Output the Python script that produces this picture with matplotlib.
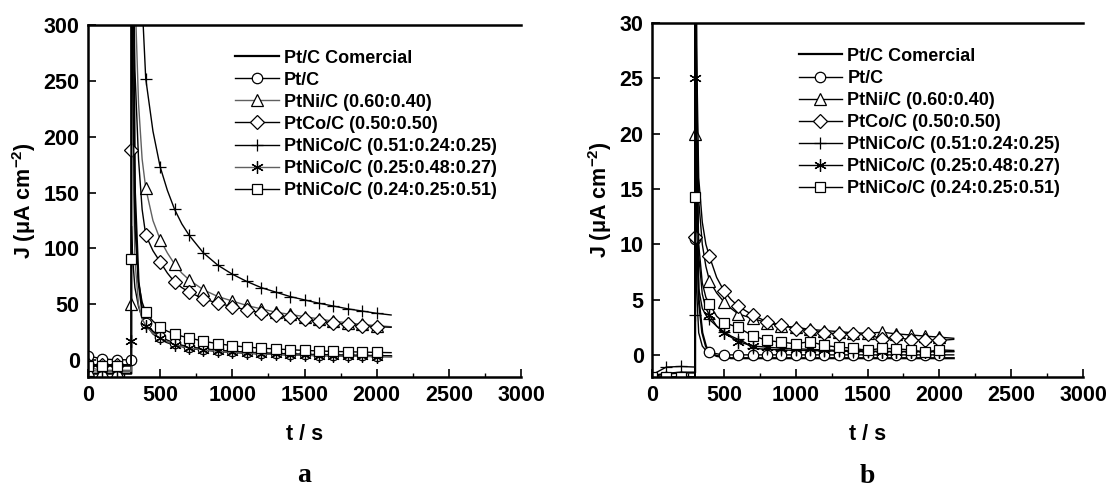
import matplotlib
matplotlib.use('Agg')
from matplotlib import pyplot as plt
from matplotlib.ticker import MultipleLocator

plt.rcParams['font.family'] = ['Liberation Sans', 'DejaVu Sans']
plt.rcParams['font.weight'] = 'bold'
plt.rcParams['mathtext.fontset'] = 'custom'
plt.rcParams['mathtext.bf'] = 'Liberation Sans:bold'
plt.rcParams['mathtext.rm'] = 'Liberation Sans:bold'
plt.rcParams['mathtext.default'] = 'bf'

# time grid (s); 299/300/301 describe the potential step
t = [0, 100, 200, 299, 300, 301, 310, 325, 350, 375, 400, 450, 500, 550, 600,
     650, 700, 800, 900, 1000, 1100, 1200, 1300, 1400, 1500, 1600, 1700,
     1800, 1900, 2000, 2100]

labels = ['Pt/C Comercial', 'Pt/C', 'PtNi/C (0.60:0.40)', 'PtCo/C (0.50:0.50)',
          'PtNiCo/C (0.51:0.24:0.25)', 'PtNiCo/C (0.25:0.48:0.27)',
          'PtNiCo/C (0.24:0.25:0.51)']

# panel a, J in uA cm-2
a_comercial = [-12, -12, -12, -12, -12, 900, 400, 150, 70, 45, 33, 24, 19, 16,
               14, 12.5, 11, 9.5, 8.2, 7.3, 6.6, 6.0, 5.5, 5.1, 4.8, 4.5, 4.3,
               4.1, 3.9, 3.7, 3.5]
a_ptc = [4, 1, 0.5, 0.3, 0, 120, 90, 65, 48, 38, 33, 26, 21, 18, 15.5, 13.5,
         12, 10.3, 9, 8, 7.2, 6.6, 6.1, 5.7, 5.3, 5, 4.7, 4.5, 4.3, 4.1, 3.9]
a_ptni = [-9, -10, -10, -10, 50, 700, 500, 330, 230, 180, 154, 125, 108, 96,
          86, 78, 72, 63, 57, 53, 49, 46, 43, 41, 39, 37, 35, 33.5, 32, 31, 30]
a_ptco = [-4, -4, -4, -4, 188, 600, 400, 260, 180, 135, 112, 98, 88, 78, 70,
          65, 61, 55, 51, 48, 45, 42.5, 40.5, 38.5, 36.5, 35, 33.5, 32, 31,
          30, 29.5]
a_ptnico1 = [-5, -5, -5, -5, 320, 2000, 1500, 900, 450, 320, 252, 205, 173,
             152, 135, 122, 112, 96, 85, 77, 70.5, 65, 61, 57, 54, 51, 48.5,
             46, 44, 42, 40.5]
a_ptnico2 = [-6.5, -9, -9, -9, 17.5, 500, 200, 90, 50, 37, 31, 24, 20, 16.5,
             14, 12.3, 11, 9.3, 8, 7, 6.3, 5.7, 5.2, 4.8, 4.5, 4.2, 3.9, 3.7,
             3.5, 3.3, 3.1]
a_ptnico3 = [-5, -5, -5, -5, 91, 500, 250, 120, 70, 52, 43, 35, 29.5, 26, 23.5,
             21.5, 20, 17, 14.8, 13, 11.8, 10.8, 10.1, 9.4, 8.8, 8.3, 7.9, 7.6,
             7.3, 7, 6.8]

# panel b, J in uA cm-2
b_comercial = [-1.9, -1.7, -1.6, -1.6, -1.6, 60, 15, 5, 2, 0.8, 0.2, -0.1,
               -0.2, -0.3, -0.3, -0.3, -0.3, -0.3, -0.3, -0.3, -0.3, -0.3,
               -0.3, -0.3, -0.3, -0.3, -0.3, -0.3, -0.3, -0.3, -0.3]
b_ptc = [-2.1, -2.0, -2.0, -2.0, 10.5, 40, 6, 2.0, 0.8, 0.4, 0.25, 0.1, 0.0,
         0, 0, 0, 0, 0, 0, 0, 0, 0, 0, 0, 0, 0, 0, 0, 0, 0, 0]
b_ptni = [-2.5, -2.5, -2.5, -2.5, 20, 60, 25, 14, 10, 8, 6.7, 5.6, 4.8, 4.2,
          3.7, 3.5, 3.3, 2.9, 2.6, 2.5, 2.3, 2.2, 2.1, 2.0, 1.95, 2.05, 1.9,
          1.8, 1.7, 1.6, 1.5]
b_ptco = [-2.5, -2.5, -2.5, -2.5, 10.7, 60, 28, 16, 12, 10, 8.9, 7.0, 5.8, 5.0,
          4.4, 4.0, 3.6, 3.0, 2.7, 2.35, 2.2, 2.0, 1.9, 1.9, 1.85, 1.45, 1.6,
          1.35, 1.35, 1.3, 1.4]
b_ptnico1 = [-1.8, -1.1, -1.05, -1.1, 3.6, 40, 12, 6, 4.2, 3.6, 3.2, 2.6, 2.1,
             1.7, 1.4, 1.1, 0.6, 0.5, 0.45, 0.4, 0.4, 0.35, 0.35, 0.3, 0.3,
             0.3, 0.3, 0.3, 0.3, 0.3, 0.3]
b_ptnico2 = [-2.5, -2.5, -2.5, -2.5, 25, 60, 20, 9, 5.5, 4.2, 3.6, 2.6, 2.0,
             1.6, 1.2, 1.0, 0.8, 0.7, 0.6, 0.55, 0.5, 0.45, 0.4, 0.4, 0.35,
             0.3, 0.3, 0.3, 0.3, 0.3, 0.3]
b_ptnico3 = [-2.0, -2.0, -2.0, -2.0, 14.3, 50, 20, 10, 6.5, 5.2, 4.6, 3.5, 2.9,
             2.7, 2.5, 2.1, 1.75, 1.3, 1.15, 1.0, 1.2, 0.85, 0.7, 0.6, 0.4,
             0.6, 0.55, 0.45, 0.25, 0.45, 0.4]

markers = [None, 'o', '^', 'D', '+', '*', 's']
msizes = [0, 7.5, 9, 7, 9, 9, 7]
# markers every 100 s (first sample at each multiple of 100)
mark_idx = [i for i, v in enumerate(t) if v % 100 == 0 and v <= 2000
            and t.index(v) == i]


def draw_panel(ax, series, colors, ylim, ymajor, letter):
    for y, lab, m, ms, c in zip(series, labels, markers, msizes, colors):
        lw = 1.6 if m is None else 1.0
        if m == '*':
            m = (6, 2, 0)
        ax.plot(t, y, color=c, lw=lw, marker=m, ms=ms, mfc='white',
                mec='black', mew=0.9, markevery=mark_idx, label=lab)

    ax.set_xlim(0, 3000)
    ax.set_ylim(*ylim)
    ax.xaxis.set_major_locator(MultipleLocator(500))
    ax.xaxis.set_minor_locator(MultipleLocator(250))
    ax.yaxis.set_major_locator(MultipleLocator(ymajor))
    ax.tick_params(which='major', direction='in', length=6, width=1.2,
                   labelsize=15.5, pad=6)
    ax.tick_params(which='minor', direction='in', length=3, width=1.0)
    ax.tick_params(axis='y', which='minor', left=False)
    for side in ['left', 'bottom', 'top']:
        ax.spines[side].set_linewidth(1.8)
    ax.spines['right'].set_visible(False)
    for lbl in ax.get_xticklabels() + ax.get_yticklabels():
        lbl.set_fontweight('bold')

    ax.set_xlabel('t / s', fontsize=15.5, fontweight='bold', labelpad=13)
    ax.set_ylabel('J (μA cm$^{-2}$)', fontsize=15.5, fontweight='bold',
                  labelpad=4)

    leg = ax.legend(loc='upper left', bbox_to_anchor=(0.34, 0.93),
                    frameon=False, fontsize=13, handlelength=2.4,
                    handletextpad=0.3, labelspacing=0.28, borderpad=0,
                    borderaxespad=0)
    for txt in leg.get_texts():
        txt.set_fontweight('bold')

    ax.text(0.5, -0.28, letter, transform=ax.transAxes, ha='center',
            va='center', fontsize=20, fontweight='bold',
            family='Liberation Serif')


fig = plt.figure(figsize=(11.1, 4.87), dpi=100)
ax_a = fig.add_axes([88 / 1110, 1 - 377 / 487, 433 / 1110, 352 / 487])
ax_b = fig.add_axes([652 / 1110, 1 - 377 / 487, 431 / 1110, 354 / 487])

gray = '#606060'
draw_panel(ax_a, [a_comercial, a_ptc, a_ptni, a_ptco, a_ptnico1, a_ptnico2,
                  a_ptnico3],
           ['black', 'black', gray, 'black', 'black', gray, 'black'],
           (-15, 300), 50, 'a')
draw_panel(ax_b, [b_comercial, b_ptc, b_ptni, b_ptco, b_ptnico1, b_ptnico2,
                  b_ptnico3],
           ['black'] * 7, (-2, 30), 5, 'b')

fig.savefig('out.png', dpi=100)
